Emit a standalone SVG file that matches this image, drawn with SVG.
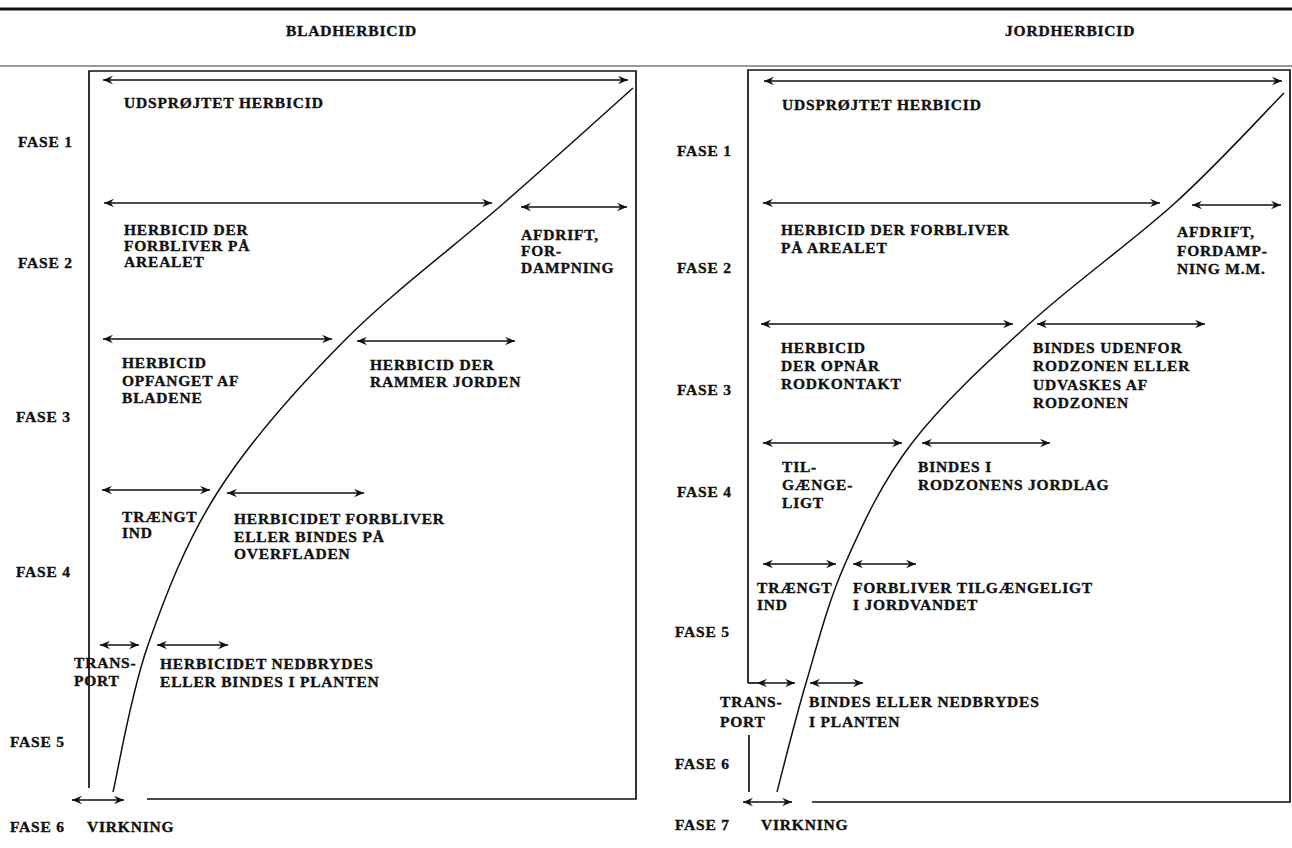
<svg xmlns="http://www.w3.org/2000/svg" width="1292" height="848" viewBox="0 0 1292 848">
  <style>
    text { font-family: "Liberation Serif", "Times New Roman", serif; font-weight: bold; font-size: 15.5px; letter-spacing: 0.8px; fill: #111; stroke: #111; stroke-width: 0.35px; }
    .frame { fill: none; stroke: #111; stroke-width: 1.7; }
    .arr { fill: none; stroke: #111; stroke-width: 1.5; marker-start: url(#head); marker-end: url(#head); }
    .curve { fill: none; stroke: #111; stroke-width: 1.5; }
  </style>
  <defs>
    <marker id="head" viewBox="-11 -5 12 10" refX="0" refY="0" markerWidth="12" markerHeight="10" markerUnits="userSpaceOnUse" orient="auto-start-reverse">
      <path d="M0,0 L-10,-4.2 L-6.5,0 L-10,4.2 Z" fill="#111"/>
    </marker>
  </defs>

  <rect width="1292" height="848" fill="#fff"/>

  <!-- page rules -->
  <line x1="0" y1="9" x2="1292" y2="9" stroke="#111" stroke-width="3"/>
  <line x1="0" y1="66" x2="1292" y2="66" stroke="#777" stroke-width="1.6"/>

  <!-- column headings -->
  <text x="286" y="36">BLADHERBICID</text>
  <text x="1005" y="36">JORDHERBICID</text>

  <!-- ===== left chart: foliar herbicide ===== -->
  <g id="left-frame">
    <polyline class="frame" points="89,788 89,71 636,71 636,799 147,799"/>
  </g>
  <g id="left-curve">
    <path class="curve" d="M633,88 C611.5,107.2 552,161 504,203 C456,245 392.5,292.2 345,340 C297.5,387.8 251.8,439.2 219,490 C186.2,540.8 165.7,594.7 148,645 C130.3,695.3 118.8,767.5 113,792"/>
  </g>
  <g id="left-phases">
    <text x="18" y="147">FASE 1</text>
    <text x="18" y="268">FASE 2</text>
    <text x="16" y="422">FASE 3</text>
    <text x="16" y="577">FASE 4</text>
    <text x="10" y="747">FASE 5</text>
    <text x="10" y="832">FASE 6</text>
  </g>
  <g id="left-connectors">
    <line class="arr" x1="103" y1="80" x2="628" y2="80"/>
    <line class="arr" x1="104" y1="203" x2="492" y2="203"/>
    <line class="arr" x1="521" y1="207" x2="627" y2="207"/>
    <line class="arr" x1="103" y1="339" x2="332" y2="339"/>
    <line class="arr" x1="357" y1="341" x2="515" y2="341"/>
    <line class="arr" x1="102" y1="490" x2="210" y2="490"/>
    <line class="arr" x1="227" y1="493" x2="364" y2="493"/>
    <line class="arr" x1="100" y1="645" x2="139" y2="645"/>
    <line class="arr" x1="157" y1="645" x2="228" y2="645"/>
    <line class="arr" x1="72" y1="800" x2="124" y2="800"/>
  </g>
  <g id="left-n1"><text x="124" y="108">UDSPRØJTET HERBICID</text></g>
  <g id="left-n2">
    <text x="124" y="235">HERBICID DER</text>
    <text x="124" y="251">FORBLIVER PÅ</text>
    <text x="124" y="267">AREALET</text>
  </g>
  <g id="left-n3">
    <text x="521" y="240">AFDRIFT,</text>
    <text x="521" y="256">FOR-</text>
    <text x="521" y="273">DAMPNING</text>
  </g>
  <g id="left-n4">
    <text x="122" y="368">HERBICID</text>
    <text x="122" y="386">OPFANGET AF</text>
    <text x="122" y="403">BLADENE</text>
  </g>
  <g id="left-n5">
    <text x="370" y="370">HERBICID DER</text>
    <text x="370" y="387">RAMMER JORDEN</text>
  </g>
  <g id="left-n6">
    <text x="122" y="522">TRÆNGT</text>
    <text x="122" y="538">IND</text>
  </g>
  <g id="left-n7">
    <text x="234" y="524">HERBICIDET FORBLIVER</text>
    <text x="234" y="542">ELLER BINDES PÅ</text>
    <text x="234" y="559">OVERFLADEN</text>
  </g>
  <g id="left-n8">
    <text x="74" y="668">TRANS-</text>
    <text x="74" y="686">PORT</text>
  </g>
  <g id="left-n9">
    <text x="160" y="669">HERBICIDET NEDBRYDES</text>
    <text x="160" y="687">ELLER BINDES I PLANTEN</text>
  </g>
  <g id="left-n10"><text x="87" y="832">VIRKNING</text></g>

  <!-- ===== right chart: soil herbicide ===== -->
  <g id="right-frame">
    <polyline class="frame" points="748,683 748,70 1290,70 1290,802 812,802"/>
    <line class="frame" x1="757" y1="683" x2="748" y2="683"/>
    <line class="frame" x1="749" y1="735" x2="749" y2="792"/>
  </g>
  <g id="right-curve">
    <path class="curve" d="M1284,93 C1265.8,111.3 1217.5,164.5 1175,203 C1132.5,241.5 1072.8,284 1029,324 C985.2,364 942.7,403 912,443 C881.3,483 862.7,524 845,564 C827.3,604 817.3,645 806,683 C794.7,721 781.8,773.8 777,792"/>
  </g>
  <g id="right-phases">
    <text x="677" y="156">FASE 1</text>
    <text x="677" y="273">FASE 2</text>
    <text x="677" y="395">FASE 3</text>
    <text x="677" y="497">FASE 4</text>
    <text x="675" y="637">FASE 5</text>
    <text x="675" y="769">FASE 6</text>
    <text x="675" y="830">FASE 7</text>
  </g>
  <g id="right-connectors">
    <line class="arr" x1="764" y1="81" x2="1282" y2="81"/>
    <line class="arr" x1="763" y1="203" x2="1160" y2="203"/>
    <line class="arr" x1="1192" y1="205" x2="1281" y2="205"/>
    <line class="arr" x1="761" y1="324" x2="1013" y2="324"/>
    <line class="arr" x1="1037" y1="324" x2="1205" y2="324"/>
    <line class="arr" x1="763" y1="443" x2="902" y2="443"/>
    <line class="arr" x1="922" y1="443" x2="1050" y2="443"/>
    <line class="arr" x1="763" y1="564" x2="836" y2="564"/>
    <line class="arr" x1="853" y1="564" x2="916" y2="564"/>
    <line class="arr" x1="757" y1="683" x2="795" y2="683"/>
    <line class="arr" x1="810" y1="683" x2="863" y2="683"/>
    <line class="arr" x1="743" y1="802" x2="792" y2="802"/>
  </g>
  <g id="right-n1"><text x="782" y="110">UDSPRØJTET HERBICID</text></g>
  <g id="right-n2">
    <text x="781" y="235">HERBICID DER FORBLIVER</text>
    <text x="781" y="253">PÅ AREALET</text>
  </g>
  <g id="right-n3">
    <text x="1177" y="237">AFDRIFT,</text>
    <text x="1177" y="256">FORDAMP-</text>
    <text x="1177" y="274">NING M.M.</text>
  </g>
  <g id="right-n4">
    <text x="781" y="353">HERBICID</text>
    <text x="781" y="371">DER OPNÅR</text>
    <text x="781" y="389">RODKONTAKT</text>
  </g>
  <g id="right-n5">
    <text x="1033" y="353">BINDES UDENFOR</text>
    <text x="1033" y="371">RODZONEN ELLER</text>
    <text x="1033" y="390">UDVASKES AF</text>
    <text x="1033" y="408">RODZONEN</text>
  </g>
  <g id="right-n6">
    <text x="782" y="472">TIL-</text>
    <text x="782" y="490">GÆNGE-</text>
    <text x="782" y="508">LIGT</text>
  </g>
  <g id="right-n7">
    <text x="918" y="472">BINDES I</text>
    <text x="918" y="490">RODZONENS JORDLAG</text>
  </g>
  <g id="right-n8">
    <text x="757" y="593">TRÆNGT</text>
    <text x="757" y="610">IND</text>
  </g>
  <g id="right-n9">
    <text x="853" y="593">FORBLIVER TILGÆNGELIGT</text>
    <text x="853" y="610">I JORDVANDET</text>
  </g>
  <g id="right-n10">
    <text x="720" y="707">TRANS-</text>
    <text x="720" y="727">PORT</text>
  </g>
  <g id="right-n11">
    <text x="809" y="707">BINDES ELLER NEDBRYDES</text>
    <text x="809" y="727">I PLANTEN</text>
  </g>
  <g id="right-n12"><text x="761" y="830">VIRKNING</text></g>
</svg>
